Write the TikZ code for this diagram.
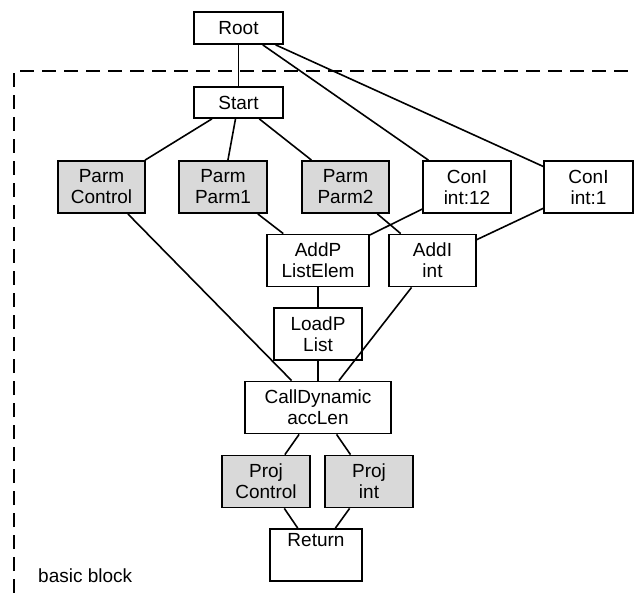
\documentclass[tikz,border=0pt]{standalone}
\usepackage{fontspec}
\setmainfont{Liberation Sans}
\begin{document}
\begin{tikzpicture}[x=1pt,y=-1pt,
  every node/.style={font=\fontsize{19}{21}\selectfont},
  op/.style={draw,line width=1.8pt,fill=white,align=center,inner sep=0pt,
    minimum height=52pt},
  single/.style={op,minimum height=32pt},
  proj/.style={op,fill=gray!30},
  wire/.style={line width=1.6pt},
  region/.style={line width=1.8pt,dash pattern=on 14pt off 8pt}]
\useasboundingbox (0,0) rectangle (634,593);

% basic block boundary (only the left and top sides are in view)
\draw[region] (14,593) -- (14,71) -- (634,71);
\node[anchor=base west,inner sep=0pt] (bb) at (38,582) {basic block};

% nodes
\node[single,minimum width=89pt] (root)  at (238.5,28)  {Root};
\node[single,minimum width=89pt,minimum height=31pt] (start) at (238.5,102.5) {Start};

\node[proj,minimum width=87pt] (pctl) at (101.5,187) {Parm\\Control};
\node[proj,minimum width=88pt] (pp1)  at (223,187)   {Parm\\Parm1};
\node[proj,minimum width=87pt] (pp2)  at (345.5,187) {Parm\\Parm2};
\node[op,minimum width=88pt]   (c12)  at (467,187)   {ConI\\int:12};
\node[op,minimum width=89pt]   (c1)   at (588.5,187) {ConI\\int:1};

\node[op,minimum width=102pt] (addp) at (318,260.5)   {AddP\\ListElem};
\node[op,minimum width=87pt]  (addi) at (432.5,260.5) {AddI\\int};

\node[op,minimum width=88pt]  (load) at (318,334)    {LoadP\\List};
\node[op,minimum width=146pt] (call) at (318,407.5)  {CallDynamic\\accLen};

\node[proj,minimum width=88pt] (prc) at (266,481.5) {Proj\\Control};
\node[proj,minimum width=88pt] (pri) at (369,481.5) {Proj\\int};

\node[op,minimum width=92pt] (ret) at (316,555) {Return\\[3pt]\strut};

% edges
\draw[wire] (root) -- (start);
\draw[wire] (root) -- (c12);
\draw[wire] (root) -- (c1);
\draw[wire] (start) -- (pctl);
\draw[wire] (start) -- (pp1);
\draw[wire] (start) -- (pp2);
\draw[wire] (pp1) -- (addp);
\draw[wire] (c12) -- (addp);
\draw[wire] (pp2) -- (addi);
\draw[wire] (c1) -- (addi);
\draw[wire] (addp) -- (load);
\draw[wire] (pctl) -- (call);
\draw[wire] (load) -- (call);
\draw[wire] (addi) -- (call);
\draw[wire] (call) -- (prc);
\draw[wire] (call) -- (pri);
\draw[wire] (prc) -- (ret);
\draw[wire] (pri) -- (ret);
\end{tikzpicture}
\end{document}
